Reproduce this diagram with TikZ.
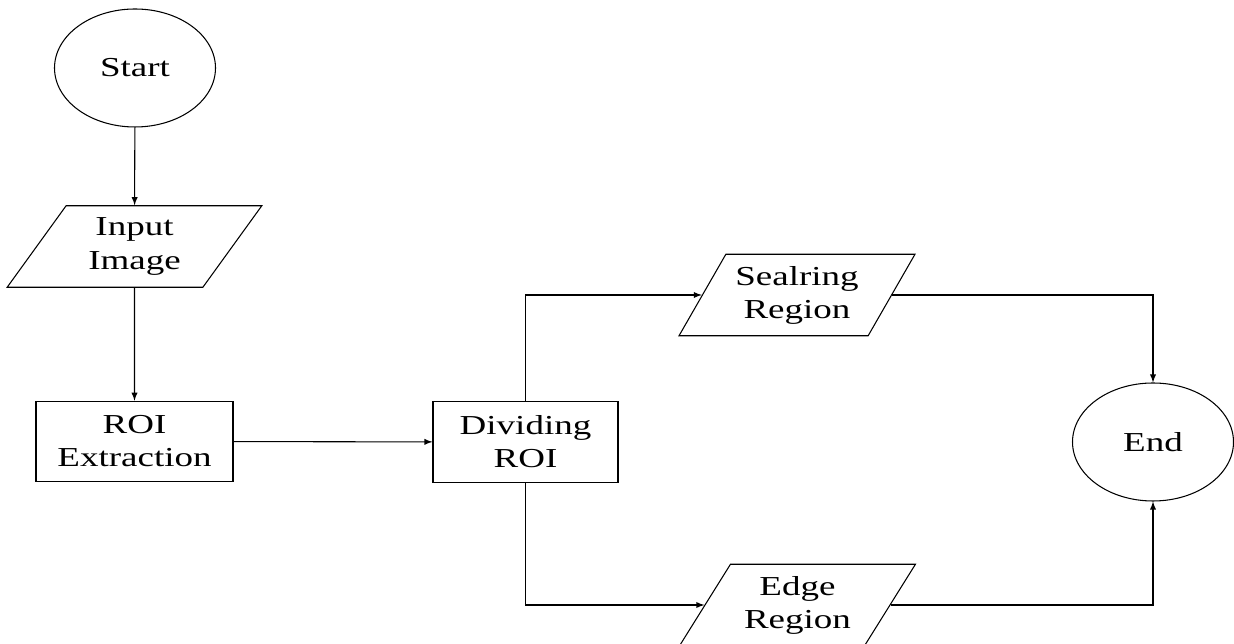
\documentclass[tikz,border=0pt]{standalone}
\usepackage{fontspec}
\setmainfont[FakeStretch=1.35]{Liberation Serif}
\usepackage{tikz}
\usetikzlibrary{shapes.geometric}
\tikzstyle{terminal}=[shape=ellipse, draw, line width=0.6pt, minimum width=3.22cm, minimum height=2.36cm, inner sep=0pt]
\tikzstyle{io}=[shape=trapezium, trapezium left angle=55, trapezium right angle=125, trapezium stretches=true, draw, line width=0.6pt, minimum width=4.9cm, minimum height=1.63cm, inner sep=0pt, align=center]
\tikzstyle{process}=[shape=rectangle, draw, line width=0.6pt, minimum height=1.61cm, inner sep=0pt, align=center]
\tikzstyle{arrow}=[line width=0.6pt, ->, >=latex]

\begin{document}
\begin{tikzpicture}[font=\fontsize{15.6}{18.8}\selectfont]
    \useasboundingbox (0,0) rectangle (24.68,12.88);
    % Main chain
    \node[terminal] (start) at (2.70,11.52) {Start};
    \node[io, minimum width=5.1cm] (input) at (2.69,7.95) {Input\\Image};
    \node[process, minimum width=3.94cm] (roi) at (2.69,4.05) {ROI\\Extraction};
    \node[process, minimum width=3.70cm] (divide) at (10.51,4.04) {Dividing\\ROI};

    % Output regions
    \node[io, minimum width=4.72cm] (sealring) at (15.94,6.98) {Sealring\\Region};
    \node[io, minimum width=4.72cm] (edge) at (15.95,0.78) {Edge\\Region};
    \node[terminal] (end) at (23.06,4.04) {End};

    % Flow arrows
    \draw[arrow] (start) -- (input);
    \draw[arrow] (input) -- (roi);
    \draw[arrow] (roi) -- (divide);
    \draw[arrow] (divide.north) |- (sealring.west);
    \draw[arrow] (divide.south) |- (edge.west);
    \draw[arrow] (sealring.east) -| (end.north);
    \draw[arrow] (edge.east) -| (end.south);

\end{tikzpicture}
\end{document}
